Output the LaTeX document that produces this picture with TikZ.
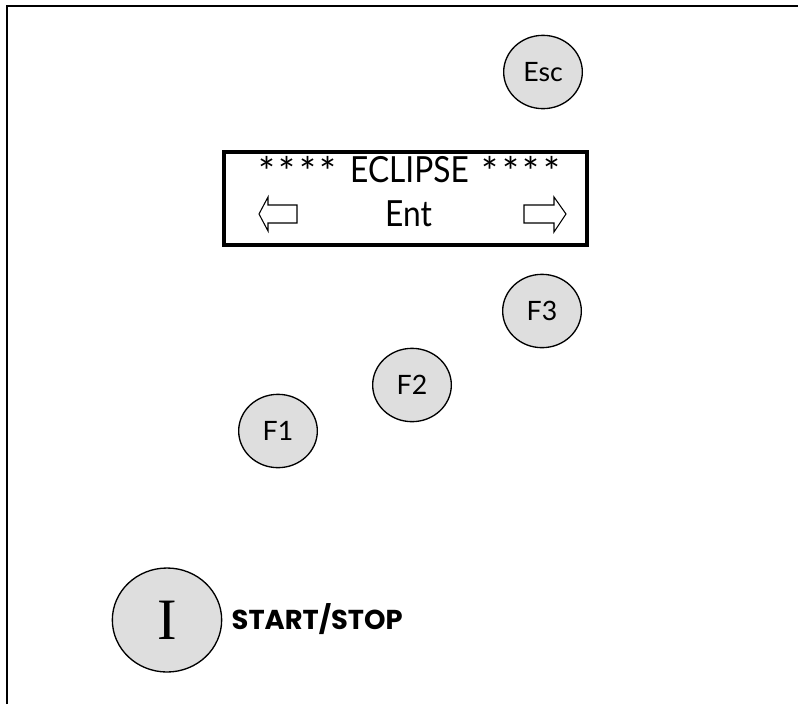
\documentclass[tikz,border=0pt]{standalone}
\usepackage{fontspec}
\setmainfont{Lato}
\newfontfamily\boldfont{Poppins}[BoldFont={Poppins Bold}]
\newfontfamily\romanfont{Liberation Serif}
\usetikzlibrary{shapes.geometric}
\definecolor{btnfill}{gray}{0.87}
\tikzset{
  btn/.style={ellipse,draw=black,line width=1pt,fill=btnfill,minimum width=59pt,minimum height=55pt,inner sep=0pt,font=\fontsize{20}{24}\selectfont},
  disptext/.style={font=\fontsize{27}{32}\selectfont,xscale=0.88},
  stars/.style={font=\fontsize{30}{34}\selectfont,inner sep=0pt},
  arrowshape/.style={draw=black,line width=0.8pt,fill=white,line join=miter}
}
\newcommand{\fourstars}{*\hspace{2.7pt}*\hspace{2.7pt}*\hspace{2.7pt}*}
\begin{document}
\begin{tikzpicture}[x=0.75pt,y=-0.75pt]
\useasboundingbox (0,0) rectangle (798,704);
\draw[line width=1.5pt] (6.5,704) -- (6.5,6) -- (798,6);
\node[btn] (esc) at (543,72) {Esc};
\node[btn] (f3) at (542,311) {F3};
\node[btn] (f2) at (412,385) {F2};
\node[btn] (f1) at (278,431) {F1};
\node[btn,minimum width=82pt,minimum height=78pt,font=\fontsize{44}{48}\selectfont\romanfont] (start) at (167,620) {I};
\node[font=\fontsize{20.5}{24}\selectfont\boldfont\bfseries,anchor=west] (lab) at (227,619) {START/STOP};
\draw[line width=2.4pt] (224,152) rectangle (587,245);
\node[disptext] (t1) at (409.5,170) {ECLIPSE};
\node[stars] (s1) at (297.5,171) {\fourstars};
\node[stars] (s2) at (521,171) {\fourstars};
\node[disptext] (t2) at (408.5,214) {Ent};
\draw[arrowshape] (259,214) -- (268,197) -- (268,205) -- (297,205) -- (297,223) -- (268,223) -- (268,231) -- cycle;
\draw[arrowshape] (566,214) -- (554,197) -- (554,205) -- (524,205) -- (524,223) -- (554,223) -- (554,232) -- cycle;
\end{tikzpicture}
\end{document}
